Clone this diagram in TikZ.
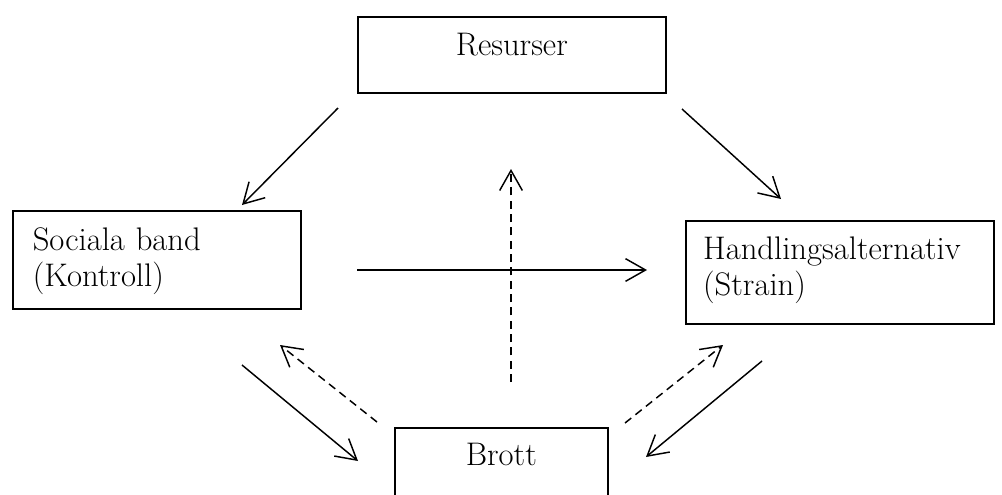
\documentclass[tikz,border=0pt]{standalone}
\usetikzlibrary{arrows.meta}
\begin{document}
\begin{tikzpicture}[x=0.75pt,y=-0.75pt,
  box/.style={draw, line width=1.2pt, inner ysep=0pt, font=\fontsize{24.5}{27}\selectfont},
  conn/.style={line width=1.1pt, -{Straight Barb[length=15pt,width=17pt,line width=1.1pt]}},
  dconn/.style={conn, dash pattern=on 6pt off 4pt}]
\clip (0,0) rectangle (1002,494);
\fill[white] (0,0) rectangle (1002,494);
% boxes
\node[box, anchor=north west, inner xsep=0pt, minimum width=231pt,
      text height=29.25pt, text depth=27.75pt] (res) at (357,16) {Resurser};
\node[box, anchor=north west, inner xsep=15pt, text width=186pt, align=left,
      text height=30pt, text depth=43.5pt] (soc) at (12,210) {Sociala band\\(Kontroll)};
\node[box, anchor=north west, inner xsep=13pt, text width=205pt, align=left,
      text height=29pt, text depth=48.25pt] (han) at (685,220) {Handlingsalternativ\\(Strain)};
\node[box, anchor=north west, inner xsep=0pt, minimum width=159.75pt,
      text height=28.5pt, text depth=39pt] (bro) at (394,427) {Brott};
% connector ends
\coordinate (r1) at (338,108); \coordinate (s1) at (242,205);
\coordinate (r2) at (682,109); \coordinate (h1) at (781,199);
\coordinate (s2) at (357,270); \coordinate (h2) at (647,270);
\coordinate (b0) at (511,382); \coordinate (v1) at (511,169);
\coordinate (s3) at (242,365); \coordinate (b1) at (358,461);
\coordinate (b2) at (377,422); \coordinate (s4) at (280,345);
\coordinate (b3) at (625,423); \coordinate (h3) at (723,345);
\coordinate (h4) at (762,361); \coordinate (b4) at (646,457);
% connectors
\draw[conn] (r1) -- (s1);
\draw[conn] (r2) -- (h1);
\draw[conn] (s2) -- (h2);
\draw[dconn] (b0) -- (v1);
\draw[conn] (s3) -- (b1);
\draw[dconn] (b2) -- (s4);
\draw[dconn] (b3) -- (h3);
\draw[conn] (h4) -- (b4);
\end{tikzpicture}
\end{document}
